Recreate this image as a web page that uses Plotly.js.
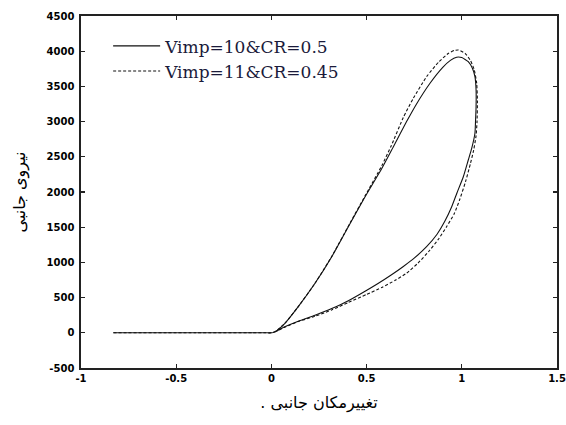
<!DOCTYPE html>
<html>
<head>
<meta charset="utf-8">
<script src="https://cdn.plot.ly/plotly-3.0.1.min.js"></script>
<style>html,body{margin:0;padding:0;background:#fff;}#chart{width:566px;height:425px;}</style>
</head>
<body>
<div id="chart"></div>
<script>
// Series 1: Vimp=10&CR=0.5 (solid)
var solidName = "Vimp=10&CR=0.5";
var solidX = [-0.83, -0.4, -0.1, -0.03, 0, 0.019, 0.071, 0.141, 0.229, 0.317, 0.404, 0.492, 0.579, 0.64, 0.71, 0.76, 0.833, 0.9, 0.94, 0.973, 1.0, 1.034, 1.055, 1.069, 1.075, 1.075, 1.072, 1.069, 1.052, 1.034, 1.008, 0.975, 0.947, 0.91, 0.87, 0.815, 0.75, 0.693, 0.631, 0.56, 0.492, 0.404, 0.317, 0.229, 0.141, 0.07, 0.03, 0.01];
var solidY = [0, 0, 0, 0, 0, 16, 135, 371, 703, 1081, 1507, 1933, 2330, 2640, 3000, 3240, 3544, 3770, 3870, 3915, 3910, 3851, 3760, 3638, 3450, 3212, 3000, 2834, 2620, 2455, 2217, 1990, 1791, 1580, 1400, 1223, 1060, 942, 824, 700, 590, 455, 345, 250, 165, 85, 28, 5];

// Series 2: Vimp=11&CR=0.45 (dashed)
var dashName = "Vimp=11&CR=0.45";
var dashX = [-0.83, -0.4, -0.1, -0.03, 0, 0.019, 0.071, 0.141, 0.229, 0.317, 0.404, 0.492, 0.579, 0.63, 0.693, 0.745, 0.815, 0.88, 0.93, 0.96, 0.982, 1.017, 1.045, 1.065, 1.078, 1.082, 1.08, 1.075, 1.062, 1.045, 1.02, 0.99, 0.96, 0.92, 0.88, 0.833, 0.77, 0.711, 0.65, 0.58, 0.5, 0.404, 0.317, 0.229, 0.141, 0.07, 0.03, 0.01];
var dashY = [0, 0, 0, 0, 0, 16, 135, 371, 703, 1085, 1515, 1945, 2370, 2660, 3060, 3330, 3638, 3850, 3970, 4010, 4017, 3970, 3870, 3740, 3550, 3300, 3000, 2800, 2590, 2400, 2150, 1900, 1690, 1507, 1340, 1176, 990, 850, 745, 645, 545, 430, 325, 235, 160, 80, 26, 5];

// Axis ticks and titles
var xTicks = [-1, -0.5, 0, 0.5, 1, 1.5];
var xTickText = ["-1", "-0.5", "0", "0.5", "1", "1.5"];
var yTicks = [-500, 0, 500, 1000, 1500, 2000, 2500, 3000, 3500, 4000, 4500];
var yTickText = ["-500", "0", "500", "1000", "1500", "2000", "2500", "3000", "3500", "4000", "4500"];
var xTitle = "تغییرمکان جانبی .\u200F";
var yTitle = "نیروی جانبی";

var traces = [
  {x: solidX, y: solidY, name: solidName, type: "scatter", mode: "lines",
   line: {color: "#111", width: 1.1, shape: "spline", smoothing: 0.5}},
  {x: dashX, y: dashY, name: dashName, type: "scatter", mode: "lines",
   line: {color: "#111", width: 1.1, dash: "3px,2px", shape: "spline", smoothing: 0.5}}
];

var axisCommon = {
  showgrid: false, zeroline: false, showline: true, mirror: "ticks",
  linecolor: "#222", linewidth: 1.6, ticks: "inside", ticklen: 4, tickwidth: 1.2,
  tickcolor: "#222",
  tickfont: {family: "DejaVu Sans, sans-serif", size: 10, color: "#000", weight: "bold"}
};

var layout = {
  width: 566, height: 425,
  margin: {l: 81, r: 9, t: 16, b: 57},
  paper_bgcolor: "#fff", plot_bgcolor: "#fff",
  showlegend: true,
  legend: {x: 0.057, y: 0.965, xanchor: "left", yanchor: "top",
           bgcolor: "rgba(0,0,0,0)", borderwidth: 0,
           font: {family: "DejaVu Serif, Liberation Serif, serif", size: 17, color: "#1a1a3a"},
           itemwidth: 47, tracegroupgap: 0},
  xaxis: Object.assign({}, axisCommon, {
    range: [-1, 1.5], tickvals: xTicks, ticktext: xTickText,
    title: {text: xTitle, font: {family: "DejaVu Sans, sans-serif", size: 16, color: "#000"}, standoff: 14}
  }),
  yaxis: Object.assign({}, axisCommon, {
    range: [-500, 4500], tickvals: yTicks, ticktext: yTickText, ticklabelstandoff: 3,
    title: {text: yTitle, font: {family: "DejaVu Sans, sans-serif", size: 16, color: "#000"}, standoff: 17}
  })
};

Plotly.newPlot("chart", traces, layout, {displayModeBar: false, staticPlot: true});
</script>
</body>
</html>
